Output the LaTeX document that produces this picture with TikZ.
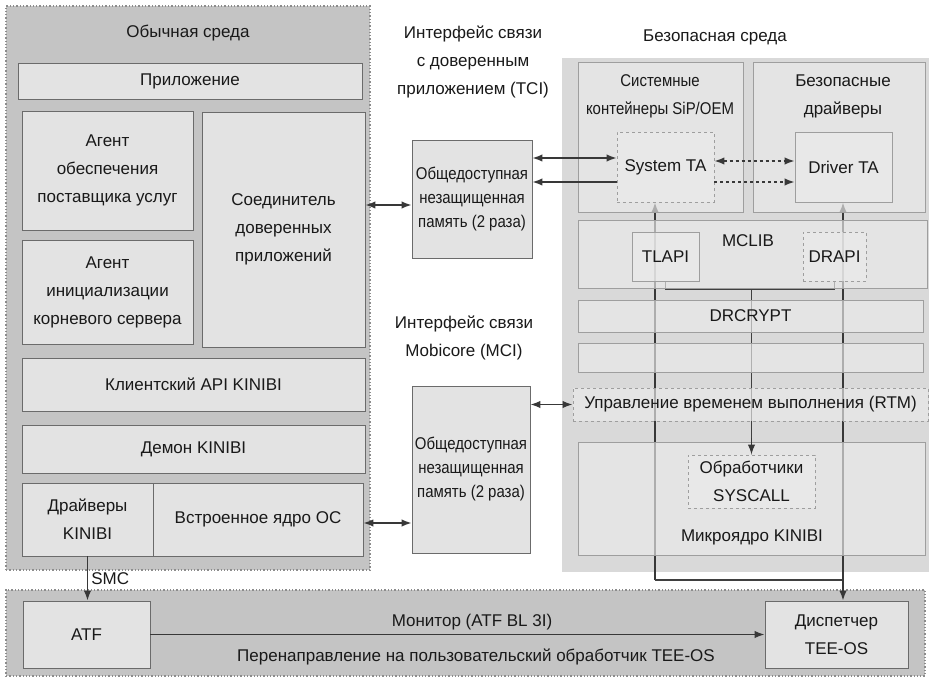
\documentclass[tikz,border=0pt]{standalone}
\usepackage{fontspec}
\setmainfont{Liberation Sans}
\newfontfamily\narrowfont[FakeStretch=0.88]{Liberation Sans}
\usetikzlibrary{fit,arrows.meta}
\pgfdeclarelayer{bg}
\pgfdeclarelayer{lines}
\pgfsetlayers{bg,lines,main}
\begin{document}
\begin{tikzpicture}[x=1pt,y=-1pt,
  every node/.style={font=\fontsize{17}{28}\selectfont, align=center, text=black!90},
  world/.style={fill=black!23, draw=black!45, dotted, line width=1.3pt, inner sep=0pt},
  secw/.style={fill=black!15, draw=none, inner sep=0pt},
  nbox/.style={fill=black!11, draw=black!58, line width=0.9pt, inner sep=0pt},
  sbox/.style={fill=black!8, draw=black!38, line width=0.9pt, inner sep=0pt, fill opacity=0.66, text opacity=1},
  dbox/.style={sbox, dashed},
  wh/.style 2 args={minimum width=#1pt, minimum height=#2pt},
  arr/.style={line width=1.6pt, draw=black!78, -{Latex[length=10pt,width=7.5pt]}},
  darr/.style={line width=1.6pt, draw=black!78, {Latex[length=10pt,width=7.5pt]}-{Latex[length=10pt,width=7.5pt]}},
  wire/.style={line width=1.6pt, draw=black!75},
  nfont/.style={font={\narrowfont\fontsize{17}{24}\selectfont}}
]
\useasboundingbox (0,0) rectangle (929,679);
\begin{pgfonlayer}{bg}
\node[world, fit={(6,6) (370,570)}] (nw) {};
\node[world, fit={(6,590) (925,676)}] (mon) {};
\node[secw, fit={(562,58) (929,572)}] (sw) {};
\end{pgfonlayer}

% titles
\node (nwt) at (188,33) {Обычная среда};
\node (tci) at (473,62) {Интерфейс связи\\с доверенным\\приложением (TCI)};
\node (mci) at (464,338) {Интерфейс связи\\Mobicore (MCI)};
\node (swt) at (715,37) {Безопасная среда};

% normal world
\node[nbox, wh={344}{36}] (app) at (190,81) {Приложение};
\node[nbox, wh={171}{119}] (ag1) at (107.5,170.5) {Агент\\обеспечения\\поставщика услуг};
\node[nbox, wh={163}{235}] (tconn) at (283.5,229.5) {Соединитель\\доверенных\\приложений};
\node[nbox, wh={171}{104}] (ag2) at (107.5,292) {Агент\\инициализации\\корневого сервера};
\node[nbox, wh={343}{53}] (api) at (193.5,384.5) {Клиентский API KINIBI};
\node[nbox, wh={343}{48}] (dmn) at (193.5,449) {Демон KINIBI};
\node[nbox, wh={131}{73}] (drv) at (87.5,519.5) {Драйверы\\KINIBI};
\node[nbox, wh={210}{73}] (kern) at (258,519.5) {Встроенное ядро ОС};

% shared memory
\node[nbox, nfont, wh={120}{118}] (shm1) at (472,199) {Общедоступная\\незащищенная\\память (2 раза)};
\node[nbox, nfont, wh={118}{167}] (shm2) at (471,469.5) {Общедоступная\\незащищенная\\память (2 раза)};

% secure world
\node[sbox, wh={165}{150}] (sysc) at (660.5,137) {};
\node[font={\narrowfont\fontsize{17}{28}\selectfont}] (sysct) at (660,96) {Системные\\контейнеры SiP/OEM};
\node[sbox, wh={172}{150}] (sdrv) at (839,137) {};
\node (sdrvt) at (843,96) {Безопасные\\драйверы};
\node[dbox, wh={97}{70}] (systa) at (665.5,167) {System TA};
\node[sbox, wh={97}{70}] (drvta) at (843.5,167) {Driver TA};
\node[sbox, wh={349}{68}] (mclib) at (752.5,254) {};
\node (mclibt) at (748,241) {MCLIB};
\node[sbox, wh={67}{49}] (tlapi) at (665.5,256.5) {TLAPI};
\node[dbox, wh={63}{49}] (drapi) at (834.5,256.5) {DRAPI};
\node[sbox, wh={345}{32}] (drc) at (750.5,316) {DRCRYPT};
\node[sbox, wh={345}{29}] (blank) at (750.5,357.5) {};
\node[dbox, wh={355}{33}] (rtm) at (750.5,404.5) {Управление временем выполнения (RTM)};
\node[sbox, wh={347}{113}] (micro) at (751.5,498.5) {};
\node[dbox, wh={127}{53}] (sysh) at (751.5,481.5) {Обработчики\\SYSCALL};
\node (microt) at (752,537) {Микроядро KINIBI};

% monitor
\node[nbox, wh={127}{67}] (atf) at (86.5,634.5) {ATF};
\node[nbox, wh={143}{67}] (disp) at (836.5,634.5) {Диспетчер\\TEE-OS};
\node (mont) at (472,622) {Монитор (ATF BL 3I)};
\node (redir) at (476,657) {Перенаправление на пользовательский обработчик TEE-OS};

% helper coordinates
\coordinate (xL) at (655,0);
\coordinate (xR) at (843,0);
\coordinate (yJ) at (0,580);
\coordinate (yB) at (0,289);
\coordinate (yS) at (0,438);
\coordinate (y205) at (0,205);
\coordinate (y158) at (0,158);
\coordinate (y162) at (0,161);
\coordinate (y182) at (0,182);
\coordinate (y523) at (0,523);

% secure vertical wiring (behind boxes)
\begin{pgfonlayer}{lines}
\draw[arr] (xL |- yJ) -- (systa.south -| xL);
\draw[wire] (xL |- yJ) -- (xR |- yJ);
\draw[darr] (drvta.south -| xR) -- (disp.north -| xR);
\draw[wire] (tlapi.south) -- (tlapi.south |- yB) -| (drapi.south);
\draw[wire] (sysh.north |- yB) -- (sysh.north);
\end{pgfonlayer}
\draw[arr] (sysh.north |- yS) -- (sysh.north);

% interface arrows
\draw[darr] (tconn.east |- y205) -- (shm1.west |- y205);
\draw[darr] (shm1.east |- y158) -- (systa.west |- y158);
\draw[arr] (systa.west |- y182) -- (shm1.east |- y182);
\draw[darr, dashed] (systa.east |- y162) -- (drvta.west |- y162);
\draw[arr, dashed] (systa.east |- y182) -- (drvta.west |- y182);
\draw[darr] (shm2.east |- rtm) -- (rtm.west);
\draw[darr] (kern.east |- y523) -- (shm2.west |- y523);
\draw[arr] (drv.south) -- (drv.south |- atf.north) node[midway, right, inner sep=3pt] (smc) {SMC};
\draw[arr] (atf.east) -- (disp.west |- atf.east);
\end{tikzpicture}
\end{document}
